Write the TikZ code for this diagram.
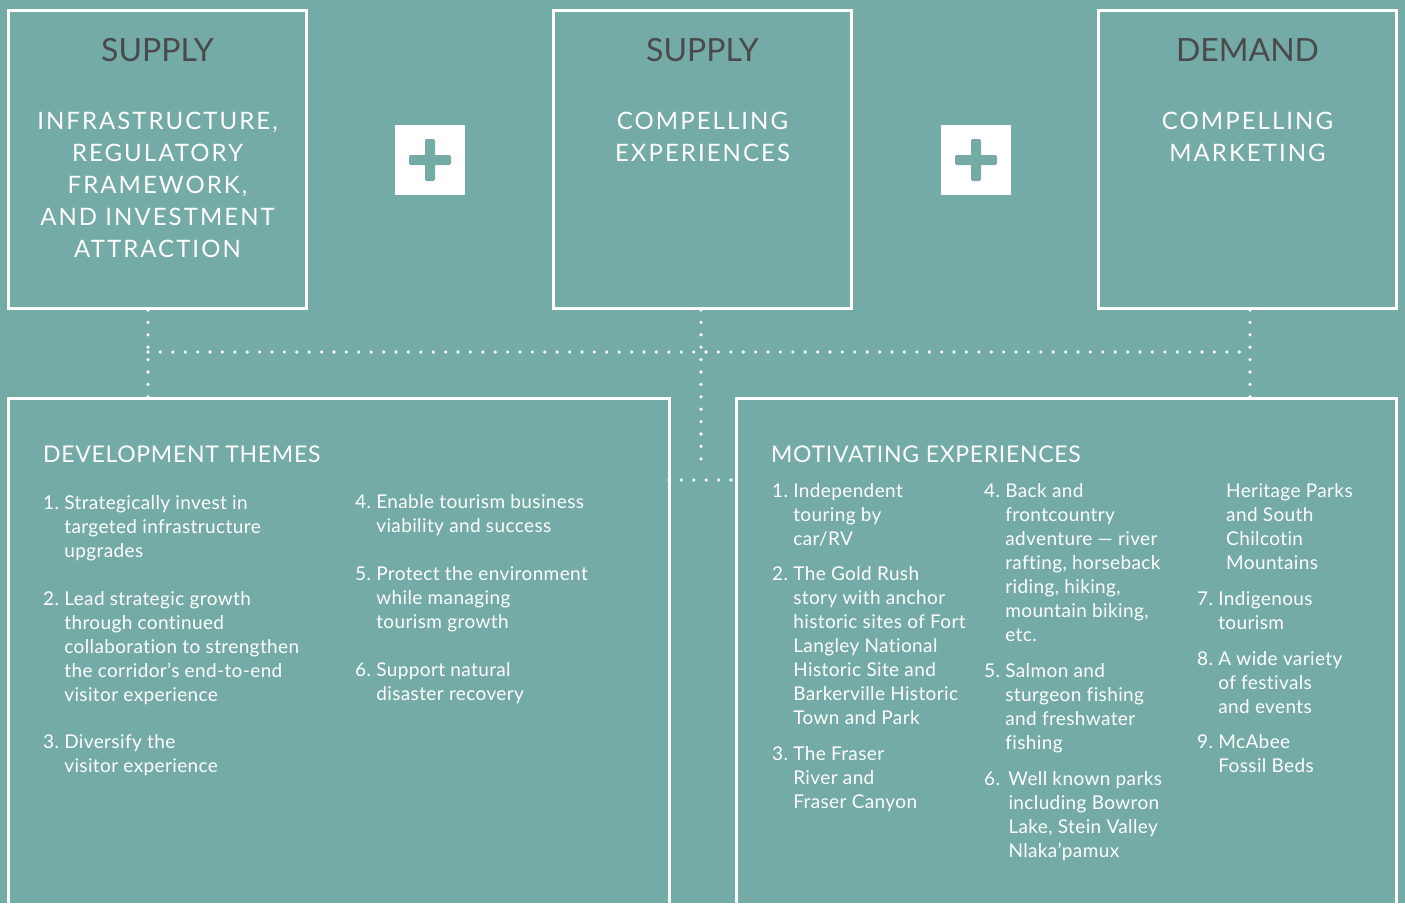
\documentclass[tikz,border=0pt]{standalone}
\usepackage{fontspec}
\setmainfont{Lato}[Ligatures=NoCommon]
\usetikzlibrary{calc, positioning}
\definecolor{panelbg}{RGB}{116,171,166}
\definecolor{headgray}{RGB}{74,74,76}
\newcommand{\numbered}[2]{\begin{tabular}[t]{@{}l@{\ }l@{}}#1 & #2\end{tabular}}
\newcommand{\stacked}[1]{\begin{tabular}[t]{@{}l@{}}#1\end{tabular}}
\newcommand{\centred}[1]{\begin{tabular}[t]{@{}c@{}}#1\end{tabular}}
\tikzstyle{topbox} = [draw=white, line width=3pt, minimum width=298pt, minimum height=298pt, inner sep=0pt]
\tikzstyle{bottombox} = [draw=white, line width=3pt, minimum width=660.5pt, minimum height=620pt, inner sep=0pt, outer sep=0pt, anchor=north west]
\tikzstyle{plusbox} = [fill=white, minimum size=70pt, inner sep=0pt]
\tikzstyle{sidehead} = [text=headgray, anchor=base, inner sep=0pt, font=\fontsize{32}{36}\selectfont]
\tikzstyle{boxtitle} = [text=white, anchor=base, inner sep=0pt, font=\fontsize{24}{32}\selectfont\addfontfeatures{LetterSpace=8.5}]
\tikzstyle{listhead} = [text=white, anchor=base west, inner sep=0pt, font=\fontsize{23}{28}\selectfont\addfontfeatures{LetterSpace=3}]
\tikzstyle{listitem} = [text=white, anchor=base west, inner sep=0pt, font=\fontsize{19}{24}\selectfont\addfontfeatures{LetterSpace=2}]
\tikzstyle{dots} = [draw=white, line width=3.6pt, line cap=round, dash pattern=on 0pt off 12.4pt]

\begin{document}
\begin{tikzpicture}[x=1pt, y=-1pt]
  \useasboundingbox (0,0) rectangle (1405,903);
  \fill [panelbg] (0,0) rectangle (1405,903);
  \clip (0,0) rectangle (1405,903);
  %% nodes
  % top row
  \node [topbox] (infra) at (157.5,159.5) {};
  \node [topbox] (experiences) at (702.5,159.5) {};
  \node [topbox] (marketing) at (1247.5,159.5) {};
  \node [plusbox] (plusA) at (430,160) {};
  \node [plusbox] (plusB) at (976,160) {};
  \node [sidehead] (infra-side) at (157.5,61) {SUPPLY};
  \node [sidehead] (experiences-side) at (702.5,61) {SUPPLY};
  \node [sidehead] (marketing-side) at (1247.5,61) {DEMAND};
  \node [boxtitle] (infra-title) at (157.5,129) {\centred{INFRASTRUCTURE,\\REGULATORY\\FRAMEWORK,\\AND INVESTMENT\\ATTRACTION}};
  \node [boxtitle] (experiences-title) at (702.5,129) {\centred{COMPELLING\\EXPERIENCES}};
  \node [boxtitle] (marketing-title) at (1247.5,129) {\centred{COMPELLING\\MARKETING}};
  % bottom row
  \node [bottombox] (themes) at (8.5,398.5) {};
  \node [bottombox, minimum width=660pt] (motivating) at (736.5,398.5) {};
  \node [listhead] (themes-head) at (43,462) {DEVELOPMENT THEMES};
  \node [listhead] (motivating-head) at (771,462) {MOTIVATING EXPERIENCES};
  % development themes
  \node [listitem] (theme1) at (43,509) {\numbered{1.}{Strategically invest in\\ & targeted infrastructure\\ & upgrades}};
  \node [listitem] (theme2) at (43,605) {\numbered{2.}{Lead strategic growth\\ & through continued\\ & collaboration to strengthen\\ & the corridor’s end-to-end\\ & visitor experience}};
  \node [listitem] (theme3) at (43,748) {\numbered{3.}{Diversify the\\ & visitor experience}};
  \node [listitem] (theme4) at (355,508) {\numbered{4.}{Enable tourism business\\ & viability and success}};
  \node [listitem] (theme5) at (355,580) {\numbered{5.}{Protect the environment\\ & while managing\\ & tourism growth}};
  \node [listitem] (theme6) at (355,676) {\numbered{6.}{Support natural\\ & disaster recovery}};
  % motivating experiences
  \node [listitem] (exp1) at (772,497) {\numbered{1.}{Independent\\ & touring by\\ & car/RV}};
  \node [listitem] (exp2) at (772,580) {\numbered{2.}{The Gold Rush\\ & story with anchor\\ & historic sites of Fort\\ & Langley National\\ & Historic Site and\\ & Barkerville Historic\\ & Town and Park}};
  \node [listitem] (exp3) at (772,760) {\numbered{3.}{The Fraser\\ & River and\\ & Fraser Canyon}};
  \node [listitem] (exp4) at (984,497) {\numbered{4.}{Back and\\ & frontcountry\\ & adventure — river\\ & rafting, horseback\\ & riding, hiking,\\ & mountain biking,\\ & etc.}};
  \node [listitem] (exp5) at (984,677) {\numbered{5.}{Salmon and\\ & sturgeon fishing\\ & and freshwater\\ & fishing}};
  \node [listitem] (exp6) at (984,785) {\numbered{6.\,}{Well known parks\\ & including Bowron\\ & Lake, Stein Valley\\ & Nlaka’pamux}};
  \node [listitem] (exp6-more) at (1226,497) {\stacked{Heritage Parks\\and South\\Chilcotin\\Mountains}};
  \node [listitem] (exp7) at (1197,605) {\numbered{7.}{Indigenous\\ & tourism}};
  \node [listitem] (exp8) at (1197,665) {\numbered{8.}{A wide variety\\ & of festivals\\ & and events}};
  \node [listitem] (exp9) at (1197,748) {\numbered{9.}{McAbee\\ & Fossil Beds}};
  % plus signs
  \foreach \p in {plusA, plusB} {
    \fill [panelbg, rounded corners=2pt] ($(\p)+(-21,-5)$) rectangle ($(\p)+(21,5)$);
    \fill [panelbg, rounded corners=2pt] ($(\p)+(-5,-21)$) rectangle ($(\p)+(5,21)$);
  }
  %% edges
  \coordinate (joinA) at (148,352);
  \coordinate (joinB) at (701,352);
  \coordinate (joinC) at (1250,352);
  \coordinate (gapend) at (701,464);
  \coordinate (gaprow) at (701,480);
  % top boxes to the dotted rail
  \path [dots] (infra.south -| joinA) -- (joinA |- themes.north);
  \path [dots] (joinA) -- (joinC);
  \path [dots] (marketing.south -| joinC) -- (joinC |- motivating.north);
  \path [dots] (experiences.south -| joinB) -- (gapend);
  % between the bottom boxes
  \path [dots] (themes.east |- gaprow) -- (motivating.west |- gaprow);
\end{tikzpicture}
\end{document}
